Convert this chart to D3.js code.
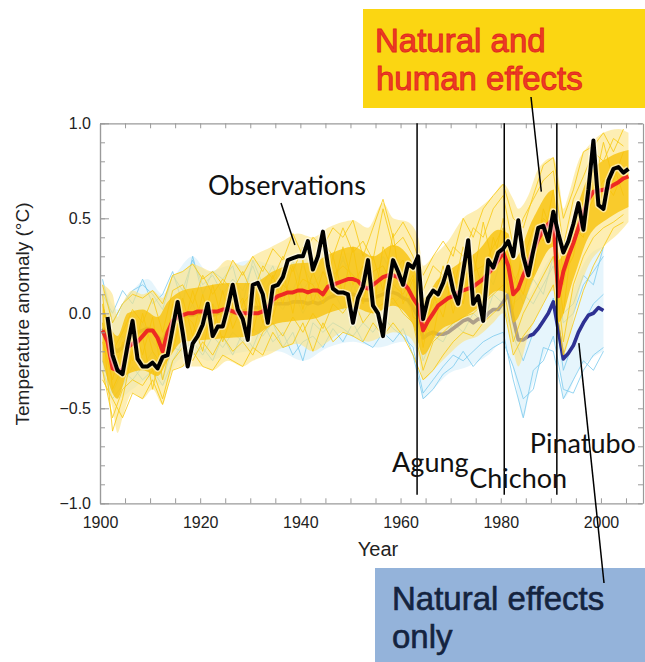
<!DOCTYPE html>
<html><head><meta charset="utf-8">
<script src="https://cdn.jsdelivr.net/npm/d3@7"></script>
<style>
html,body{margin:0;padding:0;background:#fff;}
svg{display:block;}
</style></head>
<body>
<svg id="chart" width="645" height="662"></svg>
<script>
// ---------------- DATA ----------------
const obsStart = 1901;
const observations = [
 -0.02,-0.22,-0.30,-0.32,-0.17,-0.04,-0.24,-0.28,-0.28,-0.26,
 -0.29,-0.23,-0.22,-0.08,0.06,-0.10,-0.28,-0.16,-0.12,-0.06,
 0.05,-0.12,-0.07,-0.07,0.03,0.15,0.02,-0.03,-0.14,0.15,
 0.16,0.10,-0.05,0.14,0.15,0.19,0.28,0.29,0.30,0.30,
 0.38,0.23,0.30,0.43,0.25,0.13,0.11,0.11,0.10,-0.05,
 0.08,0.14,0.28,0.04,0.00,-0.12,0.12,0.28,0.22,0.15,
 0.26,0.24,0.30,-0.03,0.08,0.12,0.10,0.16,0.245,0.12,
 0.05,0.22,0.385,0.05,0.09,-0.04,0.28,0.24,0.32,0.34,
 0.38,0.30,0.49,0.30,0.20,0.33,0.45,0.46,0.38,0.535,
 0.42,0.32,0.38,0.47,0.58,0.44,0.65,0.91,0.57,0.55,
 0.70,0.76,0.77,0.74,0.76
];
const meanStart = 1900;
const naturalHumanMean = [
 -0.09,-0.15,-0.29,-0.30,-0.30,-0.18,-0.16,-0.15,-0.12,-0.09,
 -0.09,-0.13,-0.20,-0.10,-0.04,-0.02,-0.01,0.00,0.00,0.01,
 0.01,0.01,0.01,0.01,0.02,0.02,0.01,0.00,0.00,0.00,
 0.00,0.00,0.01,0.03,0.07,0.09,0.10,0.11,0.11,0.12,
 0.12,0.11,0.12,0.12,0.10,0.14,0.15,0.16,0.17,0.18,
 0.18,0.17,0.14,0.13,0.15,0.17,0.19,0.20,0.20,0.19,
 0.16,0.13,0.08,0.04,-0.09,-0.04,0.00,0.04,0.06,0.08,
 0.09,0.11,0.12,0.13,0.14,0.16,0.18,0.21,0.24,0.28,
 0.32,0.25,0.10,0.13,0.20,0.26,0.33,0.39,0.44,0.47,
 0.50,0.09,0.22,0.30,0.37,0.45,0.53,0.60,0.64,0.645,
 0.65,0.66,0.675,0.69,0.71,0.72
];
const naturalMean = [
 -0.08,-0.10,-0.18,-0.20,-0.18,-0.13,-0.11,-0.10,-0.09,-0.08,
 -0.09,-0.12,-0.15,-0.09,-0.05,-0.03,-0.02,-0.01,-0.01,0.00,
 0.00,0.00,-0.01,0.00,0.01,0.01,0.00,0.00,0.01,0.02,
 0.03,0.03,0.03,0.04,0.05,0.05,0.05,0.05,0.06,0.06,
 0.06,0.05,0.06,0.05,0.06,0.08,0.09,0.10,0.10,0.10,
 0.10,0.09,0.07,0.07,0.08,0.09,0.10,0.11,0.11,0.10,
 0.08,0.07,0.03,-0.02,-0.13,-0.11,-0.10,-0.11,-0.11,-0.10,
 -0.08,-0.06,-0.04,-0.03,-0.05,-0.03,-0.035,0.00,0.02,0.02,
 0.06,0.10,-0.03,-0.14,-0.14,-0.12,-0.11,-0.08,-0.04,0.00,
 0.06,-0.09,-0.24,-0.21,-0.17,-0.10,-0.05,-0.01,0.00,0.03,
 0.015
];
// individual simulations, one value every 2 years from 1900
const memberStart = 1900, memberStep = 2;
const naturalHumanMembers = [
 [0.05,-0.20,-0.10,0.02,-0.05,0.08,-0.10,0.12,0.15,0.05,0.20,0.10,0.18,0.12,0.22,0.10,0.25,0.18,0.30,0.22,0.35,0.28,0.38,0.30,0.45,0.32,0.38,0.28,0.55,0.35,0.40,0.30,0.12,0.25,0.20,0.35,0.30,0.45,0.40,0.55,0.62,0.35,0.50,0.60,0.70,0.75,0.35,0.60,0.72,0.85,0.80,0.92,0.88],
 [-0.30,-0.55,-0.40,-0.35,-0.38,-0.30,-0.45,-0.25,-0.18,-0.25,-0.15,-0.22,-0.12,-0.20,-0.15,-0.22,-0.10,-0.05,-0.12,-0.02,-0.10,0.00,-0.08,0.05,0.00,0.08,-0.05,0.02,0.05,0.08,0.00,-0.05,-0.30,-0.15,-0.10,-0.05,-0.02,0.00,0.05,0.10,0.15,-0.15,0.00,0.10,0.20,0.30,-0.15,0.15,0.30,0.40,0.45,0.48,0.52],
 [-0.15,-0.35,-0.15,-0.25,0.00,-0.20,-0.28,0.05,-0.10,0.12,-0.05,0.15,-0.05,0.10,-0.08,0.15,0.00,0.20,0.05,0.25,0.02,0.22,0.08,0.30,0.10,0.35,0.05,0.30,0.12,0.42,0.05,0.18,-0.18,0.10,-0.02,0.22,0.05,0.30,0.12,0.40,0.25,0.02,0.38,0.20,0.55,0.40,0.00,0.45,0.40,0.75,0.55,0.78,0.62],
 [0.10,-0.40,-0.28,-0.05,-0.22,-0.02,-0.35,-0.12,0.08,-0.12,0.10,-0.10,0.12,-0.08,0.05,0.12,-0.05,0.12,0.22,0.00,0.28,0.05,0.22,0.12,0.35,0.15,0.25,0.00,0.35,0.22,0.28,-0.02,-0.05,-0.12,0.15,0.12,0.35,0.18,0.48,0.25,0.50,0.15,0.28,0.45,0.38,0.65,0.20,0.30,0.60,0.65,0.90,0.70,0.85],
 [-0.05,-0.62,-0.45,-0.20,-0.12,-0.40,-0.15,-0.20,0.00,-0.05,-0.20,0.05,-0.15,0.00,0.08,-0.10,0.12,-0.02,0.15,0.10,0.18,0.15,0.05,0.20,0.25,0.20,0.15,0.22,0.25,0.15,0.10,0.20,-0.05,0.05,0.25,0.00,0.20,0.22,0.25,0.35,0.45,0.20,0.10,0.30,0.50,0.45,0.15,0.40,0.50,0.60,0.70,0.62,0.75],
 [0.15,-0.05,0.05,0.10,0.08,0.12,0.05,0.20,0.22,0.26,0.18,0.22,0.15,0.28,0.20,0.30,0.22,0.34,0.28,0.42,0.30,0.40,0.35,0.45,0.40,0.49,0.30,0.45,0.60,0.40,0.48,0.38,0.20,0.30,0.38,0.30,0.50,0.40,0.55,0.62,0.68,0.50,0.45,0.62,0.78,0.82,0.50,0.65,0.85,0.88,0.95,0.85,0.97],
 [-0.35,-0.45,-0.55,-0.42,-0.45,-0.35,-0.48,-0.30,-0.28,-0.20,-0.28,-0.30,-0.22,-0.25,-0.28,-0.18,-0.22,-0.10,-0.18,-0.16,-0.05,-0.20,-0.05,-0.15,-0.10,-0.12,-0.15,-0.05,-0.12,-0.05,-0.12,-0.22,-0.35,-0.30,-0.22,-0.15,-0.10,-0.12,-0.05,0.00,0.05,-0.22,-0.12,-0.05,0.05,0.15,-0.22,-0.05,0.12,0.25,0.35,0.45,0.48]
];
const naturalMembers = [
 [0.18,-0.05,0.05,0.12,0.15,0.10,0.02,0.20,0.12,0.28,0.15,0.20,0.10,0.18,0.12,0.25,0.10,0.20,0.15,0.12,0.25,0.15,0.22,0.18,0.28,0.20,0.15,0.22,0.25,0.12,0.22,0.15,-0.02,0.05,0.08,0.10,0.12,0.15,0.20,0.25,0.28,0.05,0.10,0.05,0.15,0.25,-0.05,0.00,0.15,0.22,0.30],
 [-0.25,-0.42,-0.30,-0.35,-0.28,-0.20,-0.35,-0.18,-0.20,-0.15,-0.22,-0.12,-0.18,-0.10,-0.15,-0.08,-0.12,-0.05,-0.18,-0.10,-0.25,-0.05,-0.10,-0.05,-0.08,-0.12,-0.05,-0.10,-0.02,-0.08,-0.12,-0.18,-0.42,-0.35,-0.28,-0.22,-0.25,-0.20,-0.15,-0.12,-0.10,-0.35,-0.55,-0.30,-0.25,-0.12,-0.40,-0.42,-0.30,-0.22,-0.18],
 [-0.05,-0.25,-0.12,-0.18,-0.05,-0.15,-0.22,0.00,-0.05,0.05,-0.08,0.05,-0.02,0.08,-0.05,0.10,-0.02,0.08,0.02,0.12,0.00,0.10,0.05,0.12,0.02,0.15,0.05,0.10,0.12,0.05,0.10,0.00,-0.25,-0.12,-0.15,-0.05,-0.10,0.00,-0.05,0.10,0.05,-0.12,-0.25,-0.10,-0.05,0.08,-0.30,-0.15,-0.05,0.05,0.10],
 [0.10,0.00,0.12,0.05,0.18,0.05,0.10,0.22,0.05,0.30,0.10,0.22,0.18,0.25,0.05,0.28,0.15,0.25,0.10,0.28,0.12,0.20,0.28,0.12,0.30,0.10,0.25,0.15,0.30,0.20,0.28,0.10,0.05,0.10,0.15,0.05,0.18,0.10,0.25,0.15,0.32,0.20,0.05,0.18,0.10,0.30,0.00,0.05,0.20,0.15,0.35],
 [-0.30,-0.45,-0.38,-0.28,-0.35,-0.30,-0.38,-0.25,-0.15,-0.22,-0.18,-0.25,-0.12,-0.22,-0.10,-0.18,-0.05,-0.15,-0.10,-0.22,-0.15,-0.12,-0.18,-0.08,-0.15,-0.05,-0.15,-0.18,-0.10,-0.15,-0.08,-0.22,-0.45,-0.40,-0.32,-0.28,-0.20,-0.28,-0.22,-0.18,-0.15,-0.28,-0.45,-0.40,-0.18,-0.20,-0.45,-0.35,-0.25,-0.30,-0.20]
];
// ensemble spread: [year, low, high]
const naturalHumanSpread = [
 [1900,-0.35,0.15],[1902,-0.50,0.10],[1903,-0.63,-0.02],[1904,-0.55,0.05],[1906,-0.42,0.12],
 [1908,-0.45,0.10],[1910,-0.40,0.12],[1912,-0.48,0.08],[1914,-0.30,0.20],[1916,-0.28,0.22],
 [1918,-0.28,0.26],[1920,-0.28,0.24],[1922,-0.30,0.22],[1925,-0.25,0.28],[1928,-0.28,0.25],
 [1930,-0.25,0.30],[1933,-0.22,0.34],[1936,-0.18,0.38],[1939,-0.16,0.42],[1942,-0.20,0.40],
 [1945,-0.15,0.45],[1948,-0.10,0.48],[1950,-0.12,0.49],[1953,-0.15,0.45],[1956,-0.12,0.58],
 [1958,-0.10,0.50],[1961,-0.12,0.48],[1963,-0.22,0.40],[1964,-0.35,0.25],[1966,-0.30,0.30],
 [1969,-0.22,0.38],[1972,-0.15,0.50],[1975,-0.12,0.55],[1978,-0.05,0.62],[1980,0.00,0.68],
 [1982,-0.20,0.60],[1983,-0.28,0.55],[1985,-0.12,0.62],[1987,0.00,0.76],[1990,0.12,0.82],
 [1991,0.00,0.72],[1992,-0.22,0.55],[1993,-0.15,0.62],[1995,0.10,0.80],[1997,0.25,0.88],
 [2000,0.35,0.95],[2003,0.42,0.97],[2005,0.48,0.95]
];
const naturalHumanCore = [
 [1900,-0.25,0.05],[1903,-0.45,-0.12],[1905,-0.32,0.00],[1908,-0.30,0.02],[1911,-0.33,-0.02],
 [1913,-0.25,0.06],[1916,-0.15,0.12],[1920,-0.14,0.14],[1925,-0.13,0.16],[1930,-0.12,0.16],
 [1934,-0.06,0.22],[1938,-0.04,0.26],[1942,-0.03,0.27],[1946,0.01,0.32],[1950,0.03,0.35],
 [1954,0.00,0.30],[1958,0.04,0.36],[1962,-0.06,0.26],[1964,-0.22,0.08],[1967,-0.10,0.18],
 [1971,-0.04,0.26],[1975,0.03,0.33],[1979,0.12,0.44],[1981,0.10,0.42],[1982,-0.05,0.28],
 [1986,0.18,0.50],[1990,0.35,0.65],[1991,-0.05,0.28],[1994,0.18,0.50],[1997,0.40,0.72],
 [2001,0.50,0.82],[2005,0.56,0.86]
];
const naturalSpread = [
 [1900,-0.30,0.18],[1903,-0.45,0.02],[1906,-0.40,0.12],[1909,-0.35,0.18],[1912,-0.38,0.10],
 [1915,-0.25,0.22],[1918,-0.22,0.30],[1921,-0.25,0.22],[1925,-0.22,0.25],[1930,-0.20,0.28],
 [1935,-0.20,0.25],[1940,-0.25,0.28],[1945,-0.18,0.30],[1950,-0.15,0.32],[1955,-0.18,0.30],
 [1960,-0.15,0.28],[1963,-0.22,0.20],[1964,-0.45,0.10],[1966,-0.40,0.08],[1969,-0.32,0.15],
 [1973,-0.28,0.18],[1977,-0.22,0.25],[1980,-0.15,0.32],[1982,-0.30,0.20],[1984,-0.55,0.10],
 [1985,-0.45,0.10],[1987,-0.30,0.18],[1990,-0.15,0.30],[1991,-0.20,0.22],[1992,-0.45,0.00],
 [1993,-0.42,0.05],[1995,-0.30,0.20],[1997,-0.25,0.30],[2000,-0.20,0.35]
];
const volcanoNames = ["Agung","Chichon","Pinatubo"];
const volcanoYears = [1963.3, 1980.7, 1991.2];
const xTickLabels = [1900,1920,1940,1960,1980,2000];
const yTickLabels = [-1.0,-0.5,0.0,0.5,1.0];

// ---------------- DRAWING ----------------
const svg = d3.select("#chart");
const P = {left:100, right:643, top:123.3, bottom:503.3};
const x = d3.scaleLinear().domain([1900, 2008.2]).range([P.left, 642]);
const y = d3.scaleLinear().domain([-1, 1]).range([P.bottom, P.top]);
const mid = 0.5; // annual means plotted at mid-year

svg.append("defs").append("clipPath").attr("id","plotclip")
  .append("rect").attr("x",P.left).attr("y",P.top).attr("width",P.right-P.left).attr("height",P.bottom-P.top);

const plot = svg.append("g").attr("clip-path","url(#plotclip)");

const band = d3.area().x(d=>x(d[0]+mid)).y0(d=>y(d[1])).y1(d=>y(d[2])).curve(d3.curveMonotoneX);
const series = (start) => d3.line().x((d,i)=>x(start+i+mid)).y(d=>y(d));
const memberLine = d3.line().x((d,i)=>x(memberStart+i*memberStep+mid)).y(d=>y(d));

// natural only ensemble
plot.append("path").datum(naturalSpread).attr("d",band).attr("fill","#d6eefa").attr("opacity",0.6);
plot.selectAll(".nm").data(naturalMembers).enter().append("path")
  .attr("d",memberLine).attr("fill","none").attr("stroke","#7dcbee").attr("stroke-width",0.9).attr("opacity",0.9);
plot.append("path").datum(naturalMean).attr("d",series(meanStart))
  .attr("fill","none").attr("stroke","#2e3192").attr("stroke-width",3.6).attr("stroke-linejoin","round");

// natural + human ensemble
plot.append("path").datum(naturalHumanSpread).attr("d",band).attr("fill","#fce384").attr("opacity",0.62);
plot.selectAll(".hm").data(naturalHumanMembers).enter().append("path")
  .attr("d",memberLine).attr("fill","none").attr("stroke","#f8c810").attr("stroke-width",0.9).attr("opacity",0.9);
plot.append("path").datum(naturalHumanCore).attr("d",band).attr("fill","#f7c20a").attr("opacity",0.8);
plot.append("path").datum(naturalHumanMean).attr("d",series(meanStart))
  .attr("fill","none").attr("stroke","#ee2a22").attr("stroke-width",4).attr("stroke-linejoin","round");

// observations
plot.append("path").datum(observations).attr("d",series(obsStart))
  .attr("fill","none").attr("stroke","#ffffff").attr("stroke-width",7).attr("opacity",0.55).attr("stroke-linejoin","round");
plot.append("path").datum(observations).attr("d",series(obsStart))
  .attr("fill","none").attr("stroke","#000").attr("stroke-width",4).attr("stroke-linejoin","round");

// ---------------- AXES / FRAME ----------------
const axisColor = "#9a9a9a";
function styleAxis(g){
  g.selectAll(".domain").attr("stroke",axisColor).attr("stroke-width",1.2);
  g.selectAll(".tick line").attr("stroke",axisColor).attr("stroke-width",1);
  g.selectAll("text").attr("fill","#222").attr("font-family","Liberation Sans, Arial, sans-serif").attr("font-size",16);
}
const fiveYears = d3.range(1900, 2006, 5);
const tenths = d3.range(-10, 11).map(d=>d/10);
svg.append("g").attr("transform",`translate(0,${P.bottom})`)
  .call(d3.axisBottom(x).tickValues(fiveYears).tickSizeInner(-5).tickSizeOuter(0).tickPadding(13)
    .tickFormat(d=>xTickLabels.includes(d)?d3.format("d")(d):""))
  .call(styleAxis);
svg.append("g").attr("transform",`translate(0,${P.top})`)
  .call(d3.axisTop(x).tickValues(fiveYears).tickSizeInner(-5).tickSizeOuter(0).tickFormat(""))
  .call(styleAxis);
svg.append("g").attr("transform",`translate(${P.left},0)`)
  .call(d3.axisLeft(y).tickValues(tenths).tickSizeInner(-5).tickSizeOuter(0).tickFormat(""))
  .call(styleAxis);
svg.append("g").attr("transform",`translate(${P.left},0)`)
  .call(d3.axisLeft(y).tickValues(yTickLabels).tickSizeInner(-9).tickSizeOuter(0).tickPadding(9).tickFormat(d3.format(".1f")))
  .call(styleAxis);
svg.append("g").attr("transform",`translate(${P.right},0)`)
  .call(d3.axisRight(y).tickValues(tenths).tickSizeInner(-5).tickSizeOuter(0).tickFormat(""))
  .call(styleAxis);

svg.append("text").attr("x",378).attr("y",556).attr("text-anchor","middle")
  .attr("font-family","Liberation Sans, Arial, sans-serif").attr("font-size",20).attr("fill","#222").text("Year");
svg.append("text").attr("transform","translate(29,314) rotate(-90)").attr("text-anchor","middle")
  .attr("font-family","Liberation Sans, Arial, sans-serif").attr("font-size",19).attr("fill","#222")
  .text("Temperature anomaly (°C)");

// ---------------- VOLCANOES ----------------
const volcanoLabel = {Agung:{dx:-25, y:472}, Chichon:{dx:-35, y:488}, Pinatubo:{dx:-27, y:453}};
const vg = svg.append("g");
volcanoNames.forEach((name,i)=>{
  const vx = x(volcanoYears[i]);
  vg.append("line").attr("x1",vx).attr("x2",vx).attr("y1",y(1)).attr("y2",y(-0.955))
    .attr("stroke","#000").attr("stroke-width",1.5);
});
volcanoNames.forEach((name,i)=>{
  const vx = x(volcanoYears[i]);
  vg.append("text").attr("x",vx+volcanoLabel[name].dx).attr("y",volcanoLabel[name].y)
    .attr("font-family","Lato, sans-serif").attr("font-size",27).attr("fill","#111").text(name);
});

// ---------------- ANNOTATIONS ----------------
const sans = "Lato, sans-serif";
svg.append("text").attr("x",208).attr("y",195).attr("font-family",sans).attr("font-size",27).attr("fill","#111").text("Observations");
svg.append("line").attr("x1",281).attr("y1",203).attr("x2",x(1938.9)).attr("y2",y(0.36)).attr("stroke","#000").attr("stroke-width",1.5);

// Natural and human effects box
svg.append("rect").attr("x",363).attr("y",9).attr("width",282).attr("height",99).attr("fill","#fbd612");
const redText = svg.append("g").attr("font-family","Liberation Sans, Arial, sans-serif").attr("font-size",33)
  .attr("fill","#ef3a25").attr("stroke","#e0281e").attr("stroke-width",0.9);
redText.append("text").attr("x",375).attr("y",52).text("Natural and");
redText.append("text").attr("x",376).attr("y",90).text("human effects");
svg.append("line").attr("x1",531).attr("y1",97).attr("x2",x(1988.1)).attr("y2",y(0.64)).attr("stroke","#000").attr("stroke-width",1.5);

// Natural effects only box
svg.append("rect").attr("x",375).attr("y",568).attr("width",270).attr("height",94).attr("fill","#94b3da");
const navyText = svg.append("g").attr("font-family","Liberation Sans, Arial, sans-serif").attr("font-size",33)
  .attr("fill","#14243f").attr("stroke","#14243f").attr("stroke-width",0.6);
navyText.append("text").attr("x",392).attr("y",610).text("Natural effects");
navyText.append("text").attr("x",392).attr("y",648).text("only");
svg.append("line").attr("x1",x(1995.6)).attr("y1",y(-0.157)).attr("x2",604).attr("y2",583).attr("stroke","#000").attr("stroke-width",1.5);
</script>
</body></html>
